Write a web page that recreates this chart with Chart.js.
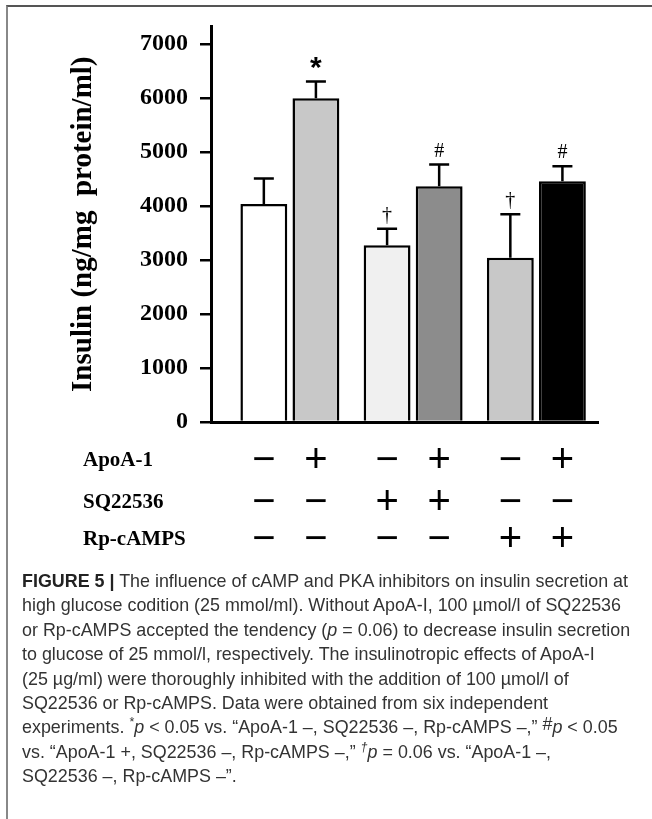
<!DOCTYPE html>
<html>
<head>
<meta charset="utf-8">
<script src="https://cdn.jsdelivr.net/npm/chart.js@4.4.1/dist/chart.umd.min.js"></script>
<style>
  body { margin: 0; background: #fff; }
  #wrap { position: relative; width: 652px; height: 819px; overflow: hidden; }
  #frame {
    position: absolute; left: 6px; top: 5px; right: -10px; bottom: -10px;
    border-top: 2px solid #555; border-left: 2px solid #888;
  }
  #chart { position: absolute; left: 0; top: 0; }
  #caption {
    position: absolute; left: 22px; top: 569px;
    font-family: 'Liberation Sans', Arial, sans-serif;
    font-size: 17.9px; line-height: 24.4px; color: #333;
    white-space: nowrap;
  }
  #caption b { color: #222; }
  #caption sup { font-size: 70%; line-height: 0; }
  #caption sup.big { font-size: 100%; vertical-align: 3px; }
</style>
</head>
<body>
<div id="wrap">
  <div id="frame"></div>
  <canvas id="chart" width="652" height="575"></canvas>
  <div id="caption">
    <b>FIGURE 5 |</b> The influence of cAMP and PKA inhibitors on insulin secretion at<br>
    high glucose codition (25 mmol/ml). Without ApoA-I, 100 &micro;mol/l of SQ22536<br>
    or Rp-cAMPS accepted the tendency (<i>p</i> = 0.06) to decrease insulin secretion<br>
    to glucose of 25 mmol/l, respectively. The insulinotropic effects of ApoA-I<br>
    (25 &micro;g/ml) were thoroughly inhibited with the addition of 100 &micro;mol/l of<br>
    SQ22536 or Rp-cAMPS. Data were obtained from six independent<br>
    experiments. <sup>*</sup><i>p</i> &lt; 0.05 vs. “ApoA-1 –, SQ22536 –, Rp-cAMPS –,” <sup class="big">#</sup><i>p</i> &lt; 0.05<br>
    vs. “ApoA-1 +, SQ22536 –, Rp-cAMPS –,” <sup><i>†</i></sup><i>p</i> = 0.06 vs. “ApoA-1 –,<br>
    SQ22536 –, Rp-cAMPS –”.
  </div>
</div>
<script>
// 3つの阻害剤グループ（x位置）
const groups = [1, 2, 3];
// バーの順番: グループごとに ApoA-1 −, ApoA-1 +
const insulin = [4040, 6000, 3275, 4370, 3045, 4460];
const sem = [470, 310, 305, 400, 805, 280];
const marks = ['', '*', '†', '#', '†', '#'];
const barColors = ['#ffffff', '#c8c8c8', '#f0f0f0', '#8c8c8c', '#c8c8c8', '#000000'];
// 下の +/− 表
const rowLabels = ['ApoA-1', 'SQ22536', 'Rp-cAMPS'];
const apoa = ['−', '+', '−', '+', '−', '+'];
const sq = ['−', '−', '+', '+', '−', '−'];
const rp = ['−', '−', '−', '−', '+', '+'];
const yTicks = [0, 1000, 2000, 3000, 4000, 5000, 6000, 7000];

const serif = "'Liberation Serif', 'Times New Roman', serif";
const sans = "'Liberation Sans', Arial, sans-serif";

/**
 * datasetを作る (0: ApoA-1 −, 1: ApoA-1 +)
 */
function makeDataset(label, k) {
  const data = [];
  const colors = [];
  groups.forEach(function (g, j) {
    data.push({ x: g, y: insulin[j * 2 + k] });
    colors.push(barColors[j * 2 + k]);
  });
  return {
    label: label,
    data: data,
    backgroundColor: colors,
    borderColor: '#000',
    borderWidth: 2.5,
    categoryPercentage: 0.845,
    barPercentage: 0.9,
  };
}

const extras = {
  id: 'extras',
  //エラーバーと有意差マーク
  afterDatasetsDraw(chart) {
    const ctx = chart.ctx;
    const yScale = chart.scales.y;
    ctx.save();
    ctx.strokeStyle = '#000';
    ctx.fillStyle = '#000';
    ctx.lineWidth = 2.5;
    chart.data.datasets.forEach(function (dataset, i) {
      const meta = chart.getDatasetMeta(i);
      meta.data.forEach(function (bar, j) {
        const k = j * 2 + i;
        const top = yScale.getPixelForValue(insulin[k] + sem[k]);
        ctx.beginPath();
        ctx.moveTo(bar.x, bar.y);
        ctx.lineTo(bar.x, top);
        ctx.moveTo(bar.x - 10, top);
        ctx.lineTo(bar.x + 10, top);
        ctx.stroke();
        if (marks[k]) {
          ctx.textAlign = 'center';
          ctx.textBaseline = 'alphabetic';
          if (marks[k] === '*') {
            ctx.font = 'bold 30px ' + sans;
            ctx.fillText(marks[k], bar.x, top - 4);
          } else {
            ctx.font = '20px ' + serif;
            ctx.fillText(marks[k], bar.x, top - 8);
          }
        }
      });
    });
    ctx.restore();
  },
  //+/− の表
  afterDraw(chart) {
    const ctx = chart.ctx;
    const rows = [apoa, sq, rp];
    const rowY = [461, 503, 540];
    const xs = [];
    chart.data.datasets.forEach(function (dataset, i) {
      chart.getDatasetMeta(i).data.forEach(function (bar, j) {
        xs[j * 2 + i] = bar.x;
      });
    });
    ctx.save();
    ctx.fillStyle = '#000';
    ctx.textBaseline = 'middle';
    rows.forEach(function (row, r) {
      ctx.font = 'bold 21px ' + serif;
      ctx.textAlign = 'left';
      ctx.fillText(rowLabels[r], 83, rowY[r]);
      ctx.font = '40px ' + sans;
      ctx.textAlign = 'center';
      row.forEach(function (s, k) {
        ctx.fillText(s, xs[k], rowY[r]);
      });
    });
    ctx.restore();
  },
};

new Chart(document.getElementById('chart'), {
  type: 'bar',
  data: {
    datasets: [makeDataset('ApoA-1 −', 0), makeDataset('ApoA-1 +', 1)],
  },
  options: {
    responsive: false,
    animation: false,
    layout: { padding: { left: 0, right: 54, top: 25, bottom: 0 } },
    plugins: {
      legend: { display: false },
      tooltip: { enabled: false },
    },
    scales: {
      x: {
        type: 'linear',
        min: 0.36,
        max: 3.5,
        offset: false,
        ticks: { display: false },
        grid: { display: false },
        border: { display: true, color: '#000', width: 3 },
        afterBuildTicks: function (s) {
          s.ticks = groups.map(function (v) {
            return { value: v };
          });
        },
        afterFit: function (s) {
          s.height = 153;
        },
      },
      y: {
        min: 0,
        max: 7330,
        ticks: {
          padding: 12,
          color: '#000',
          font: { family: serif, size: 24, weight: 'bold' },
          callback: function (v) {
            return String(v);
          },
        },
        afterBuildTicks: function (s) {
          s.ticks = yTicks.map(function (v) {
            return { value: v };
          });
        },
        grid: {
          drawOnChartArea: false,
          drawTicks: true,
          tickLength: 11,
          lineWidth: 2.5,
          color: '#000',
        },
        border: { display: true, color: '#000', width: 3 },
        title: {
          display: true,
          text: 'Insulin (ng/mg  protein/ml)',
          color: '#000',
          font: { family: serif, size: 29, weight: 'bold' },
          padding: { top: 66, bottom: 0 },
        },
        afterFit: function (s) {
          s.width = 211;
        },
      },
    },
  },
  plugins: [extras],
});
</script>
</body>
</html>
